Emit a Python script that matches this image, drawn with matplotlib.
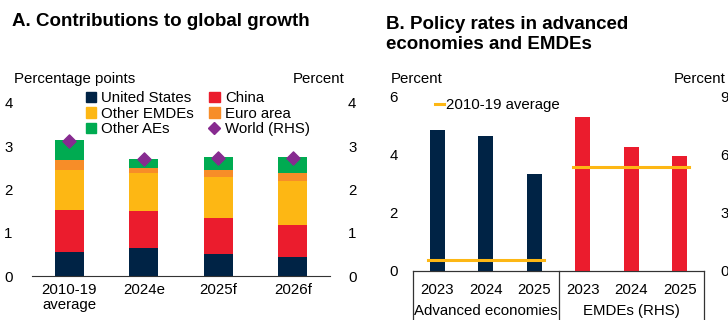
import numpy as np
import matplotlib.pyplot as plt
from matplotlib.lines import Line2D
from matplotlib.patches import Patch

plt.rcParams['font.family'] = ['Liberation Sans', 'DejaVu Sans']

# Panel A: contributions to global growth (percentage points)
periods = ["2010-19\naverage", "2024e", "2025f", "2026f"]
us = [0.55, 0.65, 0.52, 0.45]
china = [0.97, 0.85, 0.83, 0.73]
other_emdes = [0.93, 0.88, 0.94, 1.02]
euro_area = [0.24, 0.12, 0.16, 0.17]
other_aes = [0.46, 0.20, 0.30, 0.37]
world = [3.12, 2.71, 2.72, 2.72]

# Panel B: policy rates (percent)
years = ["2023", "2024", "2025"]
ae_rates = [4.83, 4.62, 3.34]
emde_rates = [7.94, 6.37, 5.93]
ae_avg = 0.39
emde_avg = 5.36

navy = "#002345"
red = "#EB1C2D"
yellow = "#FDB714"
orange = "#F78D28"
green = "#00AB51"
purple = "#872B90"

fig = plt.figure(figsize=(7.28, 3.2), dpi=100)
fs = 10.8
tfs = 13.5

# ---------- Panel A ----------
axA = fig.add_axes([32 / 728, 44 / 320, 298 / 728, 173 / 320])
x = np.arange(len(periods))
w = 0.39
series = [(us, navy), (china, red), (other_emdes, yellow),
          (euro_area, orange), (other_aes, green)]
bottom = np.zeros(len(periods))
for vals, col in series:
    axA.bar(x, vals, w, bottom=bottom, color=col, edgecolor="none")
    bottom += np.array(vals)
axA.scatter(x, world, marker="D", s=45, color=purple, zorder=3)

axA.set_xlim(-0.5, 3.5)
axA.set_ylim(0, 4)
axA.set_yticks([0, 1, 2, 3, 4])
axA.set_xticks(x)
axA.set_xticklabels(periods, fontsize=fs, linespacing=1.1)
axA.tick_params(axis="both", length=0, labelsize=fs)
axA.tick_params(axis="y", pad=14)
axA.tick_params(axis="x", pad=5)
for s in ["top", "left", "right"]:
    axA.spines[s].set_visible(False)
axA.spines["bottom"].set_color("#333333")

axA2 = axA.twinx()
axA2.set_ylim(0, 4)
axA2.set_yticks([0, 1, 2, 3, 4])
axA2.tick_params(axis="y", length=0, labelsize=fs, pad=13)
for s in ["top", "left", "right", "bottom"]:
    axA2.spines[s].set_visible(False)

handles = [Patch(color=navy, label="United States"),
           Patch(color=yellow, label="Other EMDEs"),
           Patch(color=green, label="Other AEs"),
           Patch(color=red, label="China"),
           Patch(color=orange, label="Euro area"),
           Line2D([], [], marker="D", ls="none", color=purple, markersize=6,
                  label="World (RHS)")]
axA.legend(handles=handles, ncol=2, loc="upper left",
           bbox_to_anchor=(0.155, 1.11), frameon=False, fontsize=fs,
           handlelength=0.7, handleheight=0.7, handletextpad=0.35,
           labelspacing=0.1, columnspacing=1.0, borderpad=0)

fig.text(12 / 728, 1 - 22 / 320, "A. Contributions to global growth",
         fontsize=tfs, fontweight="bold", va="center", ha="left")
fig.text(14 / 728, 1 - 79 / 320, "Percentage points", fontsize=fs,
         va="center", ha="left")
fig.text(345 / 728, 1 - 79 / 320, "Percent", fontsize=fs,
         va="center", ha="right")

# ---------- Panel B ----------
axB = fig.add_axes([413 / 728, 49 / 320, 291 / 728, 175 / 320])
axB2 = axB.twinx()
pos_ae = np.array([0, 1, 2])
pos_em = np.array([3, 4, 5])
bw = 0.31
axB.bar(pos_ae, ae_rates, bw, color=navy)
axB2.bar(pos_em, emde_rates, bw, color=red)
axB.plot([pos_ae[0] - 0.2, pos_ae[-1] + 0.2], [ae_avg, ae_avg], color=yellow,
         lw=2.2, label="2010-19 average")
axB2.plot([pos_em[0] - 0.2, pos_em[-1] + 0.2], [emde_avg, emde_avg],
          color=yellow, lw=2.2)

axB.set_xlim(-0.5, 5.5)
axB.set_ylim(0, 6)
axB.set_yticks([0, 2, 4, 6])
axB2.set_ylim(0, 9)
axB2.set_yticks([0, 3, 6, 9])
axB.set_xticks(np.arange(6))
axB.set_xticklabels(years + years, fontsize=fs)
axB.tick_params(axis="x", length=0, pad=9, labelsize=fs)
axB.tick_params(axis="y", length=0, pad=11, labelsize=fs)
axB2.tick_params(axis="y", length=0, pad=12, labelsize=fs)
for a in (axB, axB2):
    for s in ["top", "left", "right"]:
        a.spines[s].set_visible(False)
    a.spines["bottom"].set_color("#333333")

trans = axB.get_xaxis_transform()
for xv in [-0.5, 2.5, 5.5]:
    axB.plot([xv, xv], [0, -0.35], color="#333333", lw=0.9,
             transform=trans, clip_on=False)
# group labels kept fully inside the canvas
lab_y = -47 / 175
axB.text(1, lab_y, "Advanced economies", transform=trans, ha="center",
         va="bottom", fontsize=fs)
axB.text(4, lab_y, "EMDEs (RHS)", transform=trans, ha="center",
         va="bottom", fontsize=fs)

axB.legend(loc="upper left", bbox_to_anchor=(0.05, 1.03), frameon=False,
           fontsize=fs, handlelength=0.6, handletextpad=0.1, borderpad=0)

fig.text(386 / 728, 1 - 34.5 / 320, "B. Policy rates in advanced\neconomies and EMDEs",
         fontsize=tfs, fontweight="bold", va="center", ha="left",
         linespacing=1.2)
fig.text(391 / 728, 1 - 79 / 320, "Percent", fontsize=fs, va="center", ha="left")
fig.text(674 / 728, 1 - 79 / 320, "Percent", fontsize=fs, va="center", ha="left")

fig.savefig("out.png", dpi=100)
